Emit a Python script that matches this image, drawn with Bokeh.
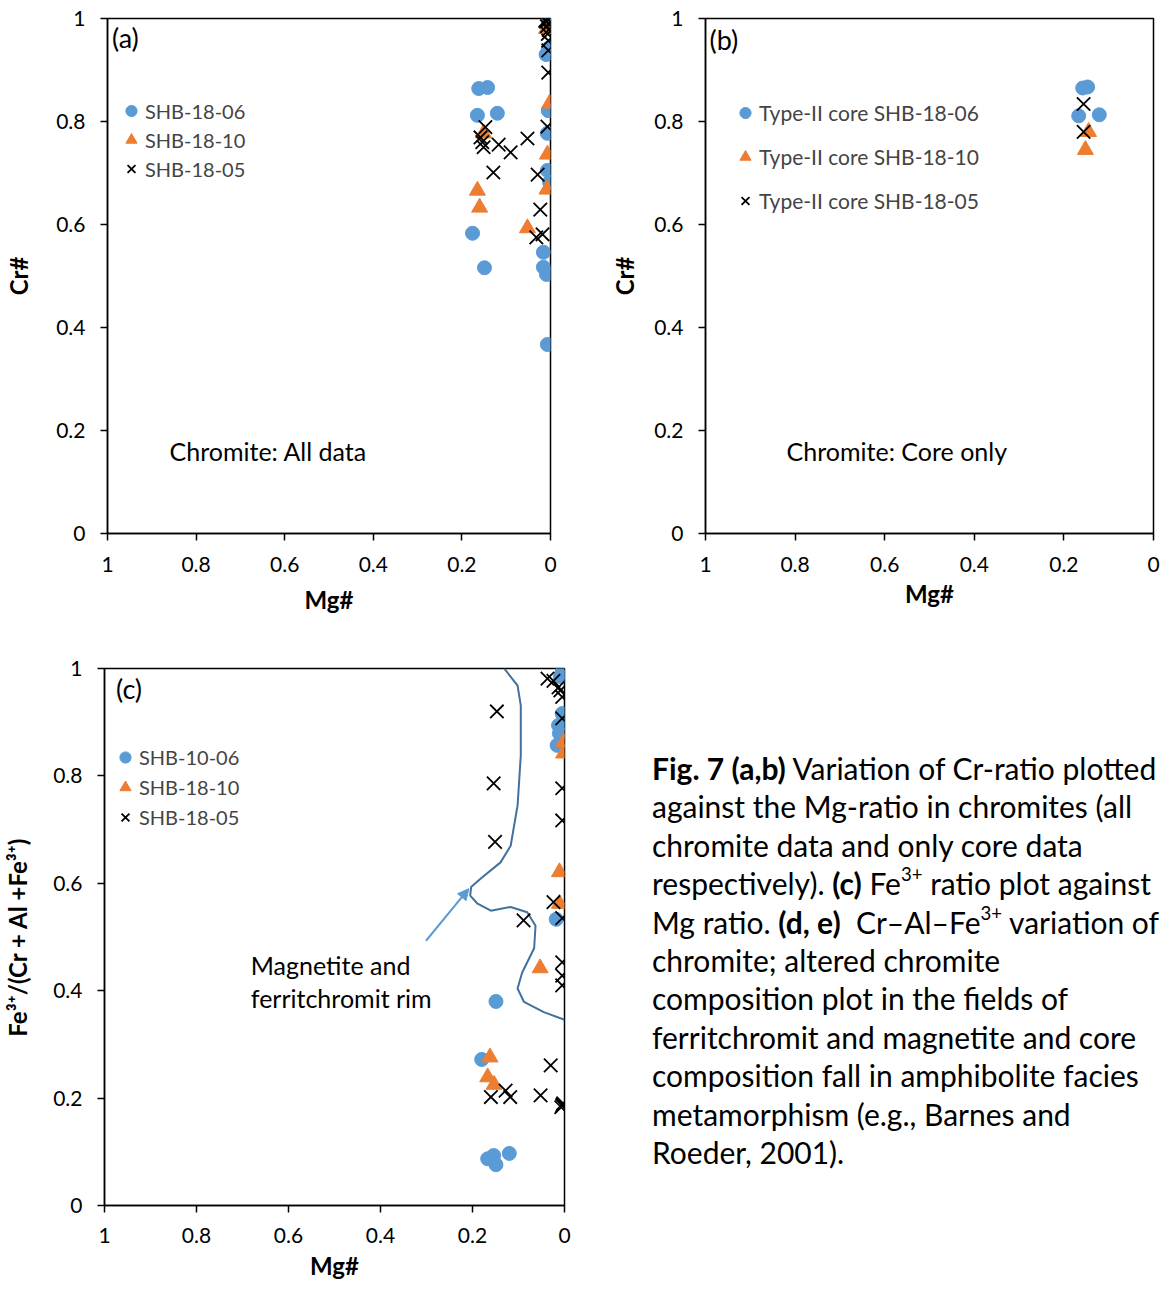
from bokeh.plotting import figure
from bokeh.models import (Range1d, FixedTicker, Legend, LegendItem, Label, Arrow,
                          NormalHead, Div)
from bokeh.layouts import row, column
from bokeh.embed import file_html
from bokeh.resources import INLINE

FONT = "Lato"
BLUE = "#5B9BD5"
ORANGE = "#ED7D31"
CURVE = "#41719C"

tick_values = [0, 0.2, 0.4, 0.6, 0.8, 1]
tick_labels = ["0", "0.2", "0.4", "0.6", "0.8", "1"]

# ---------------- Panel (a): all chromite data (Mg#, Cr#) ----------------
a_names = ["SHB-18-06", "SHB-18-10", "SHB-18-05"]
a_06_mg = [0.162, 0.142, 0.165, 0.120, 0.176, 0.149, 0.005, 0.007, 0.007, 0.002,
           0.016, 0.016, 0.009, 0.007, 0.005, 0.002, 0.005, 0.010]
a_06_cr = [0.864, 0.866, 0.812, 0.816, 0.583, 0.516, 0.821, 0.777, 0.705, 0.682,
           0.546, 0.517, 0.503, 0.367, 0.995, 0.985, 0.942, 0.930]
a_10_mg = [0.151, 0.165, 0.160, 0.052, 0.002, 0.007, 0.008, 0.009]
a_10_cr = [0.777, 0.666, 0.633, 0.593, 0.835, 0.736, 0.668, 0.980]
a_05_mg = [0.147, 0.158, 0.154, 0.151, 0.117, 0.090, 0.052, 0.129, 0.029, 0.007,
           0.005, 0.005, 0.005, 0.023, 0.018, 0.032, 0.005, 0.010, 0.003, 0.008,
           0.004, 0.006, 0.012]
a_05_cr = [0.789, 0.769, 0.760, 0.750, 0.755, 0.740, 0.767, 0.701, 0.697, 0.790,
           0.895, 0.938, 0.957, 0.629, 0.581, 0.575, 0.998, 0.994, 0.990, 0.985,
           0.978, 0.970, 0.996]

# ---------------- Panel (b): core only ----------------
b_names = ["Type-II core SHB-18-06", "Type-II core SHB-18-10", "Type-II core SHB-18-05"]
b_06_mg = [0.158, 0.147, 0.167, 0.121]
b_06_cr = [0.865, 0.867, 0.811, 0.813]
b_10_mg = [0.145, 0.152]
b_10_cr = [0.780, 0.745]
b_05_mg = [0.156, 0.156]
b_05_cr = [0.834, 0.780]

# ---------------- Panel (c): Fe3+ ratio vs Mg# ----------------
c_names = ["SHB-10-06", "SHB-18-10", "SHB-18-05"]
c_06_mg = [0.005, 0.009, 0.005, 0.013, 0.011, 0.016, 0.018, 0.149, 0.180, 0.167,
           0.149, 0.154, 0.120]
c_06_fe = [0.993, 0.985, 0.916, 0.894, 0.879, 0.857, 0.533, 0.380, 0.272, 0.087,
           0.076, 0.093, 0.097]
c_10_mg = [0.002, 0.002, 0.011, 0.011, 0.053, 0.162, 0.167, 0.153]
c_10_fe = [0.863, 0.842, 0.621, 0.562, 0.442, 0.276, 0.239, 0.225]
c_05_mg = [0.037, 0.024, 0.013, 0.009, 0.005, 0.147, 0.005, 0.154, 0.151, 0.005,
           0.005, 0.024, 0.005, 0.089, 0.005, 0.005, 0.005, 0.030, 0.160, 0.128,
           0.118, 0.052, 0.005, 0.003, 0.007, 0.004]
c_05_fe = [0.981, 0.977, 0.965, 0.959, 0.947, 0.920, 0.907, 0.786, 0.677, 0.777,
           0.717, 0.565, 0.535, 0.531, 0.453, 0.428, 0.410, 0.261, 0.202, 0.214,
           0.202, 0.205, 0.186, 0.190, 0.183, 0.188]

# hand-drawn field boundary (Magnetite and ferritchromit rim)
boundary_mg = [0.131, 0.102, 0.095, 0.095, 0.102, 0.117, 0.139, 0.182, 0.203, 0.205,
               0.189, 0.160, 0.117, 0.081, 0.063, 0.066, 0.092, 0.102, 0.088, 0.045, 0.0]
boundary_fe = [1.000, 0.968, 0.931, 0.838, 0.745, 0.670, 0.639, 0.609, 0.593, 0.577,
               0.562, 0.549, 0.556, 0.546, 0.521, 0.479, 0.434, 0.404, 0.379, 0.360, 0.346]


def make_fig(width, height, bl, bt, br, bb, xlabel, ylabel, x_std, y_std, xl_std=16):
    p = figure(width=width, height=height, x_range=Range1d(1, 0), y_range=Range1d(0, 1),
               output_backend="svg", toolbar_location=None,
               min_border_left=bl, min_border_top=bt, min_border_right=br,
               min_border_bottom=bb)
    p.grid.visible = False
    p.outline_line_color = "black"
    p.outline_line_width = 1.5
    p.outline_line_alpha = 1
    p.background_fill_color = "white"
    p.border_fill_color = "white"
    for ax in (p.xaxis[0], p.yaxis[0]):
        ax.ticker = FixedTicker(ticks=tick_values)
        ax.major_label_overrides = dict(zip(tick_values, tick_labels))
        ax.axis_line_color = "black"
        ax.axis_line_width = 1.5
        ax.major_tick_line_color = "black"
        ax.major_tick_line_width = 1.5
        ax.major_tick_out = 7
        ax.major_tick_in = 0
        ax.minor_tick_line_color = None
        ax.major_label_text_font = FONT
        ax.major_label_text_font_size = "21px"
        ax.major_label_text_color = "black"
        ax.axis_label_text_font = FONT
        ax.axis_label_text_font_size = "24px"
        ax.axis_label_text_font_style = "bold"
        ax.axis_label_text_color = "black"
    p.xaxis[0].major_label_standoff = xl_std
    p.yaxis[0].major_label_standoff = 15
    p.xaxis[0].axis_label = xlabel
    p.yaxis[0].axis_label = ylabel
    p.xaxis[0].axis_label_standoff = x_std
    p.yaxis[0].axis_label_standoff = y_std
    return p


def add_series(p, xs_list, ys_list, names, loc, spacing, gh, fsize):
    r1 = p.scatter(xs_list[0], ys_list[0], marker="circle", size=14,
                   fill_color=BLUE, line_color=BLUE)
    r2 = p.scatter(xs_list[1], ys_list[1], marker="triangle", size=16,
                   fill_color=ORANGE, line_color=ORANGE)
    r3 = p.scatter(xs_list[2], ys_list[2], marker="x", size=19,
                   line_color="black", line_width=1.8)
    leg = Legend(items=[LegendItem(label=names[0], renderers=[r1]),
                        LegendItem(label=names[1], renderers=[r2]),
                        LegendItem(label=names[2], renderers=[r3])],
                 location=loc, border_line_alpha=0, background_fill_alpha=0,
                 padding=0, margin=0, spacing=spacing, glyph_width=28, glyph_height=gh,
                 label_standoff=0, label_text_font=FONT, label_text_font_size=fsize,
                 label_height=20)
    p.add_layout(leg)


def add_text(p, x, y, text, size, baseline="middle"):
    p.add_layout(Label(x=x, y=y, text=text, text_font=FONT, text_font_size=size,
                       text_baseline=baseline, text_align="left", text_color="black"))


# ---- (a)
pa = make_fig(568, 620, 107, 18, 18, 87, "Mg#", "Cr#", 10, 20)
add_series(pa, [a_06_mg, a_10_mg, a_05_mg], [a_06_cr, a_10_cr, a_05_cr], a_names,
           (10, 350), 0, 29, "20px")
add_text(pa, 0.99, 0.995, "(a)", "27px", "top")
add_text(pa, 0.860, 0.161, "Chromite: All data", "25px")

# ---- (b)
pb = make_fig(599, 620, 137, 15, 14, 87, "Mg#", "Cr#", 4, 12)
add_series(pb, [b_06_mg, b_10_mg, b_05_mg], [b_06_cr, b_10_cr, b_05_cr], b_names,
           (26, 318), 15, 29, "21px")
add_text(pb, 0.991, 0.992, "(b)", "27px", "top")
add_text(pb, 0.819, 0.161, "Chromite: Core only", "25px")

# ---- (c)
pc = make_fig(640, 667, 102, 48, 76, 82, "Mg#", "Fe\u00b3\u207a/(Cr + Al +Fe\u00b3\u207a)",
              5, 18, xl_std=15)
pc.line(boundary_mg, boundary_fe, line_color=CURVE, line_width=2)
add_series(pc, [c_06_mg, c_10_mg, c_05_mg], [c_06_fe, c_10_fe, c_05_fe], c_names,
           (7, 373), 0, 30, "20px")
pc.add_layout(Arrow(end=NormalHead(size=11, fill_color=BLUE, line_color=BLUE),
                    x_start=0.301, y_start=0.493, x_end=0.208, y_end=0.590,
                    line_color=BLUE, line_width=2))
add_text(pc, 0.975, 0.993, "(c)", "27px", "top")
add_text(pc, 0.682, 0.447, "Magnetite and", "25px")
add_text(pc, 0.682, 0.387, "ferritchromit rim", "25px")

SUP = ("<span style=\"font-size:62%;line-height:0;position:relative;top:-0.75em\">"
       "3+</span>")
caption_html = (
    "<div style=\"padding-top:124px;padding-left:7px;font-family:Lato;font-size:30px;"
    "line-height:38.4px;color:black;white-space:nowrap\">"
    "<b>Fig. 7 (a,b)</b> Variation of Cr-ratio plotted<br>"
    "against the Mg-ratio in chromites (all<br>"
    "chromite data and only core data<br>"
    "respectively). <b>(c)</b> Fe" + SUP + " ratio plot against<br>"
    "Mg ratio. <b>(d, e)</b>&nbsp; Cr\u2013Al\u2013Fe" + SUP + " variation of<br>"
    "chromite; altered chromite<br>"
    "composition plot in the fields of<br>"
    "ferritchromit and magnetite and core<br>"
    "composition fall in amphibolite facies<br>"
    "metamorphism (e.g., Barnes and<br>"
    "Roeder, 2001)."
    "</div>"
)
caption = Div(text=caption_html, width=527, height=667)

layout = column(row(pa, pb), row(pc, caption))
open("out.html", "w").write(file_html(layout, INLINE))
